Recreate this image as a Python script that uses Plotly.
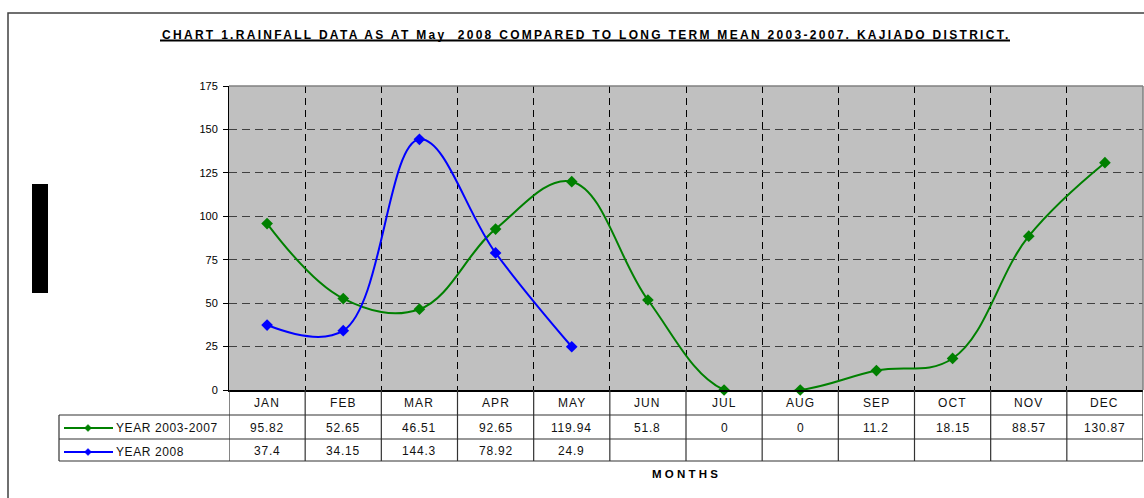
import plotly.graph_objects as go

months = ["JAN", "FEB", "MAR", "APR", "MAY", "JUN", "JUL", "AUG", "SEP", "OCT", "NOV", "DEC"]
mean_2003_2007 = [95.82, 52.65, 46.51, 92.65, 119.94, 51.8, 0, 0, 11.2, 18.15, 88.57, 130.87]
year_2008 = [37.4, 34.15, 144.3, 78.92, 24.9]
series_names = ["YEAR 2003-2007", "YEAR 2008"]
y_ticks = [0, 25, 50, 75, 100, 125, 150, 175]
title_text = "CHART 1.RAINFALL DATA AS AT May\u00a0 2008 COMPARED TO LONG TERM MEAN 2003-2007. KAJIADO DISTRICT."
x_title = "MONTHS"

GREEN = "#008000"
BLUE = "#0000FF"
FONT = "Liberation Sans, Arial, sans-serif"

W, H = 1144, 498
L, R, T, B = 229, 1143, 86, 390


def px(x):
    return (x - L) / (R - L)


def py(y):
    return (B - y) / (B - T)


def spaced(s, ls):
    return f'<span style="letter-spacing:{ls}px">{s}</span>'


fig = go.Figure()
fig.add_trace(go.Scatter(
    x=months, y=mean_2003_2007, name=series_names[0], mode="lines+markers",
    line=dict(color=GREEN, width=2, shape="spline", smoothing=1.1),
    marker=dict(symbol="diamond", size=9, color=GREEN), cliponaxis=False))
fig.add_trace(go.Scatter(
    x=months[:len(year_2008)], y=year_2008, name=series_names[1], mode="lines+markers",
    line=dict(color=BLUE, width=2, shape="spline", smoothing=1.1),
    marker=dict(symbol="diamond", size=9, color=BLUE), cliponaxis=False))

fig.update_layout(
    width=W, height=H,
    margin=dict(l=L, r=W - R, t=T, b=H - B, autoexpand=False),
    paper_bgcolor="white", plot_bgcolor="#C0C0C0",
    showlegend=False,
    font=dict(family=FONT, color="#000000", size=11),
)
fig.update_xaxes(
    type="category", categoryorder="array", categoryarray=months,
    range=[-0.5, len(months) - 0.5], tickson="boundaries",
    showticklabels=False, ticks="",
    showgrid=True, gridcolor="#000000", gridwidth=1, griddash="7px,5px",
    showline=True, linecolor="#000000", linewidth=2, zeroline=False, fixedrange=True)
fig.update_yaxes(
    range=[0, 175], tickvals=y_ticks, ticks="outside", ticklen=5, tickcolor="#000000",
    tickfont=dict(size=11, family=FONT, color="#000000"), ticklabelstandoff=3,
    showgrid=True, gridcolor="#404040", gridwidth=1, griddash="8px,5px",
    showline=True, linecolor="#000000", linewidth=1, zeroline=False, fixedrange=True)

shapes = []
# outer chart border
shapes.append(dict(type="rect", xref="paper", yref="paper", x0=px(8), x1=px(1152), y0=py(13), y1=py(506),
                   line=dict(color="#404040", width=1.5), fillcolor="rgba(0,0,0,0)", layer="below"))
# black block on the left
shapes.append(dict(type="rect", xref="paper", yref="paper", x0=px(32), x1=px(48), y0=py(184), y1=py(293),
                   line=dict(width=0), fillcolor="#000000"))
# title underline
shapes.append(dict(type="line", xref="paper", yref="paper", x0=px(160), x1=px(1010), y0=py(40.5), y1=py(40.5),
                   line=dict(color="#000000", width=2)))
# plot-area top and right borders
shapes.append(dict(type="line", xref="paper", yref="paper", x0=0, x1=1, y0=1, y1=1,
                   line=dict(color="#808080", width=1.5)))
shapes.append(dict(type="line", xref="paper", yref="paper", x0=1, x1=1, y0=0, y1=1,
                   line=dict(color="#808080", width=1.5)))

# data table
row_top, row1, row2, row_bot = 390, 415, 439, 461
LINE_C = "#333333"
for i in range(len(months) + 1):
    xb = i - 0.5
    shapes.append(dict(type="line", xref="x", yref="paper", x0=xb, x1=xb, y0=py(row_top), y1=py(row_bot),
                       line=dict(color=LINE_C, width=1.2)))
for yy in (row1, row2, row_bot):
    shapes.append(dict(type="line", xref="paper", yref="paper", x0=px(59), x1=1, y0=py(yy), y1=py(yy),
                       line=dict(color=LINE_C, width=1.2)))
shapes.append(dict(type="line", xref="paper", yref="paper", x0=px(59), x1=px(59), y0=py(row1), y1=py(row_bot),
                   line=dict(color=LINE_C, width=1.2)))

# legend keys in the table
for yc, col in ((428, GREEN), (452, BLUE)):
    shapes.append(dict(type="line", xref="paper", yref="paper", x0=px(64), x1=px(113), y0=py(yc), y1=py(yc),
                       line=dict(color=col, width=2)))
    cx, d = 88, 3.5
    path = (f"M {px(cx - d)},{py(yc)} L {px(cx)},{py(yc - d)} L {px(cx + d)},{py(yc)} "
            f"L {px(cx)},{py(yc + d)} Z")
    shapes.append(dict(type="path", xref="paper", yref="paper", path=path,
                       fillcolor=col, line=dict(color=col, width=0.5)))

annotations = []
annotations.append(dict(text="<b>" + spaced(title_text, 2.3) + "</b>", xref="paper", yref="paper",
                        x=px(586), y=py(34.5), xanchor="center", yanchor="middle", showarrow=False,
                        font=dict(size=12, family=FONT, color="#000000")))
annotations.append(dict(text="<b>" + spaced(x_title, 3.2) + "</b>", xref="paper", yref="paper",
                        x=px(686), y=py(474), xanchor="center", yanchor="middle", showarrow=False,
                        font=dict(size=11.5, family=FONT, color="#000000")))
for i, m in enumerate(months):
    annotations.append(dict(text=spaced(m, 1.1), xref="x", yref="paper", x=m, y=py(402.5),
                            xanchor="center", yanchor="middle", showarrow=False,
                            font=dict(size=12, family=FONT, color="#111111")))
for i, v in enumerate(mean_2003_2007):
    annotations.append(dict(text=spaced(f"{v:g}", 0.8), xref="x", yref="paper", x=months[i], y=py(427.5),
                            xanchor="center", yanchor="middle", showarrow=False,
                            font=dict(size=12, family=FONT, color="#111111")))
for i, v in enumerate(year_2008):
    annotations.append(dict(text=spaced(f"{v:g}", 0.8), xref="x", yref="paper", x=months[i], y=py(451),
                            xanchor="center", yanchor="middle", showarrow=False,
                            font=dict(size=12, family=FONT, color="#111111")))
for name, yc in zip(series_names, (428, 452)):
    annotations.append(dict(text=spaced(name, 0.6), xref="paper", yref="paper", x=px(114), y=py(yc),
                            xanchor="left", yanchor="middle", showarrow=False,
                            font=dict(size=12, family=FONT, color="#111111")))

fig.update_layout(shapes=shapes, annotations=annotations)

fig.write_html("out.html", config={"displayModeBar": False},
               post_script="document.body.style.margin='0';document.body.style.overflow='hidden';")
